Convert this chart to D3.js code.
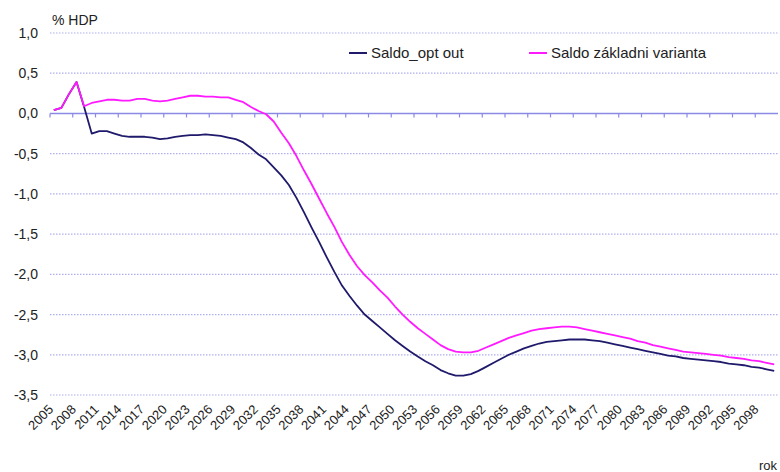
<!DOCTYPE html>
<html>
<head>
<meta charset="utf-8">
<script src="https://cdn.jsdelivr.net/npm/d3@7"></script>
<style>
  html, body { margin: 0; padding: 0; background: #fff; }
  svg { display: block; font-family: Arial, "Liberation Sans", sans-serif; }
</style>
</head>
<body>
<svg id="chart" width="780" height="472"></svg>
<script>
// Years on the category axis
const years = d3.range(2005, 2101);

// Every third year is labelled
const yearLabels = years.filter((y, i) => i % 3 === 0);

// Y axis tick values
const yTicks = [1.0, 0.5, 0.0, -0.5, -1.0, -1.5, -2.0, -2.5, -3.0, -3.5];

// Balance, opt-out scenario (% of GDP)
const saldoOptOut = [
  0.04, 0.07, 0.24, 0.39, 0.08, -0.25, -0.22, -0.22, -0.25, -0.28,
  -0.29, -0.29, -0.29, -0.30, -0.32, -0.31, -0.29, -0.28, -0.27, -0.27,
  -0.26, -0.27, -0.28, -0.30, -0.32, -0.36, -0.43, -0.51, -0.57, -0.67,
  -0.77, -0.89, -1.05, -1.23, -1.42, -1.60, -1.79, -1.97, -2.14, -2.27,
  -2.39, -2.50, -2.58, -2.66, -2.74, -2.82, -2.89, -2.96, -3.02, -3.08,
  -3.13, -3.19, -3.23, -3.26, -3.26, -3.24, -3.20, -3.15, -3.10, -3.05,
  -3.00, -2.96, -2.92, -2.89, -2.86, -2.84, -2.83, -2.82, -2.81, -2.81,
  -2.81, -2.82, -2.83, -2.85, -2.87, -2.89, -2.91, -2.93, -2.95, -2.97,
  -2.99, -3.01, -3.02, -3.04, -3.05, -3.06, -3.07, -3.08, -3.09, -3.11,
  -3.12, -3.13, -3.15, -3.16, -3.18, -3.20
];

// Balance, baseline scenario (% of GDP)
const saldoZakladni = [
  0.04, 0.07, 0.24, 0.39, 0.09, 0.13, 0.15, 0.17, 0.17, 0.16,
  0.16, 0.18, 0.18, 0.16, 0.15, 0.16, 0.18, 0.20, 0.22, 0.22,
  0.21, 0.21, 0.20, 0.20, 0.17, 0.14, 0.08, 0.03, -0.01, -0.10,
  -0.24, -0.37, -0.53, -0.71, -0.88, -1.06, -1.24, -1.41, -1.60, -1.76,
  -1.90, -2.01, -2.10, -2.20, -2.29, -2.40, -2.50, -2.59, -2.67, -2.74,
  -2.81, -2.88, -2.93, -2.96, -2.97, -2.97, -2.95, -2.91, -2.87, -2.83,
  -2.79, -2.76, -2.73, -2.70, -2.68, -2.67, -2.66, -2.65, -2.65, -2.66,
  -2.68, -2.70, -2.72, -2.74, -2.76, -2.78, -2.80, -2.83, -2.85, -2.88,
  -2.90, -2.92, -2.94, -2.96, -2.97, -2.98, -2.99, -3.00, -3.01, -3.03,
  -3.04, -3.05, -3.07, -3.08, -3.10, -3.12
];

const seriesNames = ["Saldo_opt out", "Saldo základni varianta"];
const seriesColors = ["#1f1a6b", "#ff1aff"];

const svg = d3.select("#chart");
const plotLeft = 50, plotRight = 778, plotTop = 33, plotBottom = 395;

const x = d3.scaleBand().domain(years).range([plotLeft, plotRight]).paddingInner(0).paddingOuter(0);
const y = d3.scaleLinear().domain([-3.5, 1.0]).range([plotBottom, plotTop]);
const fmt = v => d3.format(".1f")(v).replace(".", ",").replace("−", "-");

// Dotted horizontal gridlines
svg.append("g").selectAll("line")
  .data(yTicks.filter(v => v !== 0))
  .join("line")
  .attr("x1", plotLeft).attr("x2", plotRight)
  .attr("y1", d => y(d)).attr("y2", d => y(d))
  .attr("stroke", "#aeaef0")
  .attr("stroke-width", 1.2)
  .attr("stroke-dasharray", "1.5,1.5");

// Y axis labels
const yAxis = d3.axisLeft(y).tickValues(yTicks).tickFormat(fmt).tickSize(0).tickPadding(0);
svg.append("g")
  .attr("transform", `translate(38,0)`)
  .call(yAxis)
  .call(g => g.select(".domain").remove())
  .call(g => g.selectAll("text")
    .attr("font-size", 14)
    .attr("font-family", "Arial, 'Liberation Sans', sans-serif")
    .attr("fill", "#222"));

// Zero line with category tick marks every three years
const tickYears = years.filter((yr, i) => i % 3 === 0);
svg.append("g").selectAll("line")
  .data(tickYears)
  .join("line")
  .attr("x1", d => x(d)).attr("x2", d => x(d))
  .attr("y1", y(0)).attr("y2", y(0) + 4)
  .attr("stroke", "#8a8ae6").attr("stroke-width", 1.2);
svg.append("line")
  .attr("x1", plotLeft).attr("x2", plotRight)
  .attr("y1", y(0)).attr("y2", y(0))
  .attr("stroke", "#8a8ae6").attr("stroke-width", 1.6);

// X axis labels, rotated
svg.append("g").selectAll("text")
  .data(yearLabels)
  .join("text")
  .attr("transform", d => `translate(${x(d) + x.bandwidth() / 2 - 3},${plotBottom + 12}) rotate(-45)`)
  .attr("text-anchor", "end")
  .attr("dy", "0.35em")
  .attr("font-size", 13)
  .attr("fill", "#222")
  .text(d => d);

// Series lines
const line = d3.line()
  .x((d, i) => x(years[i]) + x.bandwidth() / 2)
  .y(d => y(d));

[saldoOptOut, saldoZakladni].forEach((vals, k) => {
  svg.append("path")
    .datum(vals)
    .attr("fill", "none")
    .attr("stroke", seriesColors[k])
    .attr("stroke-width", 1.8)
    .attr("stroke-linejoin", "round")
    .attr("d", line);
});

// Legend
const legendX = [349, 529];
seriesNames.forEach((name, k) => {
  const g = svg.append("g").attr("transform", `translate(${legendX[k]},53)`);
  g.append("line").attr("x1", 0).attr("x2", 18).attr("y1", 0).attr("y2", 0)
    .attr("stroke", seriesColors[k]).attr("stroke-width", 2);
  g.append("text").attr("x", 22).attr("y", 0).attr("dy", "0.35em")
    .attr("font-size", 15).attr("fill", "#222").text(name);
});

// Unit and axis titles
svg.append("text").attr("x", 52).attr("y", 25).attr("font-size", 14).attr("fill", "#222").text("% HDP");
svg.append("text").attr("x", 759).attr("y", 470)
  .attr("font-size", 13).attr("fill", "#222").text("rok");
</script>
</body>
</html>
